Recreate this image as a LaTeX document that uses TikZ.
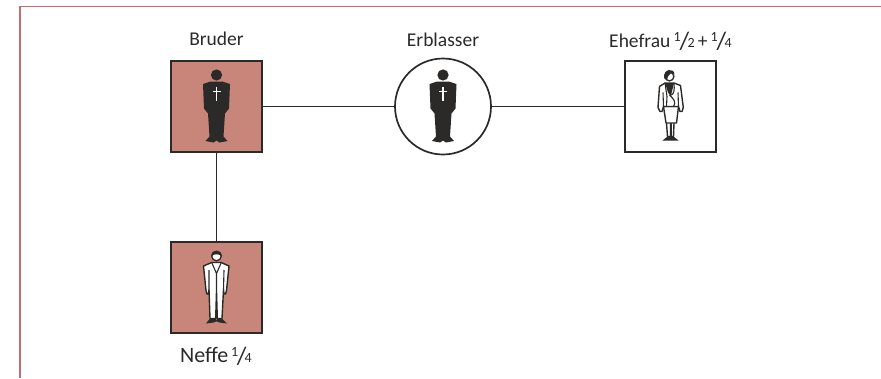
\documentclass[tikz,border=0pt]{standalone}
\usepackage{fontspec}
\setmainfont{Carlito}
\definecolor{rosefill}{HTML}{C8857A}
\definecolor{framerose}{HTML}{BE6E73}
\definecolor{inkgray}{HTML}{2B2A29}
\newcommand{\frc}[2]{{\fontsize{14}{14}\selectfont\raisebox{.42em}{#1}}\kern-.06em{\fontsize{25}{25}\selectfont\raisebox{-.08em}{/}}\kern-.08em{\fontsize{14}{14}\selectfont #2}}
\tikzset{
  x=1pt, y=-1pt,
  person/.style={draw=inkgray, line width=1.7pt, minimum size=91pt, inner sep=0pt},
  tag/.style={text=inkgray, font=\fontsize{19.5}{22}\selectfont, inner sep=0pt},
  link/.style={draw=inkgray, line width=1.7pt},
  deceased/.pic={
    \fill[inkgray] (0,-31.5) circle (5.6);
    \fill[inkgray] (-13.5,-22.5) -- (-6,-25) -- (6,-25) -- (13.5,-22.5) -- (12.5,2) -- (8.5,7) -- (7,30) -- (11,34.5)
      -- (3,36) -- (0,34) -- (-3,36) -- (-11,34.5) -- (-7,30) -- (-8.5,7) -- (-12.5,2) -- cycle;
    \draw[white, line width=1.1pt] (0,-20) -- (0,-5.5) (-4,-15) -- (4,-15);
  },
  suitman/.pic={
    \draw[inkgray, fill=white, line width=1.4pt, line join=round] (-13,-21.5) -- (-4.8,-25) -- (4.8,-25) -- (12.5,-21.5) -- (10,3) -- (9,6.5) -- (7.5,6.5) -- (7,2) -- (5.5,31) -- (.8,31) -- (0,4) -- (-.8,31) -- (-6.5,31) -- (-7.5,2) -- (-8,6.5) -- (-9.5,6.5) -- (-10.5,3) -- cycle;
    \draw[inkgray, line width=1.1pt] (-4.8,-25) -- (0,-14) -- (4.8,-25) (0,-14) -- (0,4) (-7.5,2) -- (-7.5,-17.5) (7,2) -- (7.5,-17.5);
    \draw[inkgray, fill=white, line width=1.3pt] (0,-31.5) circle (4.8);
    \fill[inkgray] (-5.2,-31) .. controls (-5.5,-38.5) and (5.5,-38.5) .. (5.2,-31) .. controls (3,-34) and (-3,-34) .. cycle;
    \fill[inkgray] (-10.5,36) -- (-6.5,31) -- (-.8,31) -- (0,33.5) -- (.8,31) -- (5.5,31) -- (10.5,36) -- (3,35) -- (0,33.8) -- (-3,35) -- cycle;
  },
  widow/.pic={
    \draw[inkgray, fill=white, line width=1.4pt] (-4,16.5) -- (-3,30) -- (0,30) -- (0,16.5) (0.6,16.5) -- (.6,30) -- (3,30) -- (3.5,16.5);
    \draw[inkgray, fill=white, line width=1.4pt, line join=round] (-7,0) -- (-4.5,16.5) -- (6,16.5) -- (8,0) -- cycle;
    \draw[inkgray, fill=white, line width=1.4pt, line join=round] (-5.5,-23.5) -- (-11,-20) -- (-12.5,1) -- (-10.5,5) -- (-8.5,5) -- (-7,0) -- (8,0) -- (9.5,5) -- (11.5,5) -- (12.8,1) -- (10,-21) -- (3.5,-23.5) -- cycle;
    \fill[inkgray] (-5.5,-23.5) -- (3.5,-23.5) -- (1,-13) -- (-.5,-11) -- (-2.5,-14) -- cycle;
    \draw[inkgray, line width=1.1pt] (3.5,-23.5) .. controls (4,-16) and (4,-12) .. (-.5,-11) .. controls (3,-8) and (6,-4) .. (3,0) (-5.5,-23.5) -- (-3.5,-10) -- (-4,0) (-7,0) -- (-7.5,-14) (8,0) -- (7.5,-14);
    \draw[inkgray, fill=white, line width=1.3pt] (-1,-30) circle (4.4);
    \fill[inkgray] (-6.5,-28.5) .. controls (-7.5,-38) and (4,-39) .. (4,-32) .. controls (1.5,-35) and (-2.5,-33) .. (-3.5,-26) -- cycle;
    \fill[inkgray] (-8,34) -- (-3,30) -- (0,30) -- (.3,32.5) -- (.6,30) -- (3,30) -- (8,34) -- cycle;
  }
}
\begin{document}
\begin{tikzpicture}
\useasboundingbox (0,0) rectangle (881,378);
\draw[framerose, line width=1.6pt] (20,378) -- (20,6.5) -- (881,6.5);
\node[person, fill=rosefill] (bruder) at (216.5,106.5) {};
\node[person, fill=rosefill] (neffe) at (216.5,287.5) {};
\node[person, fill=white] (ehefrau) at (670.5,106.5) {};
\node[person, circle, fill=white, minimum size=96pt] (erblasser) at (443,106.5) {};
\draw[link] (bruder) -- (erblasser);
\draw[link] (erblasser) -- (ehefrau);
\draw[link] (bruder) -- (neffe);
\pic at (bruder.center) {deceased};
\pic at (erblasser.center) {deceased};
\pic at (neffe.center) {suitman};
\pic at (ehefrau.center) {widow};
\node[tag] (lbruder) at (216.5,39) {Bruder};
\node[tag] (lerblasser) at (443,40) {Erblasser};
\node[tag] (lehefrau) at (670.5,41) {Ehefrau\kern.16em\frc{1}{2}\kern.16em+\kern.16em\frc{1}{4}};
\node[tag] (lneffe) at (216,356) {\fontsize{22}{24}\selectfont Neffe\kern.12em\frc{1}{4}};
\end{tikzpicture}
\end{document}
